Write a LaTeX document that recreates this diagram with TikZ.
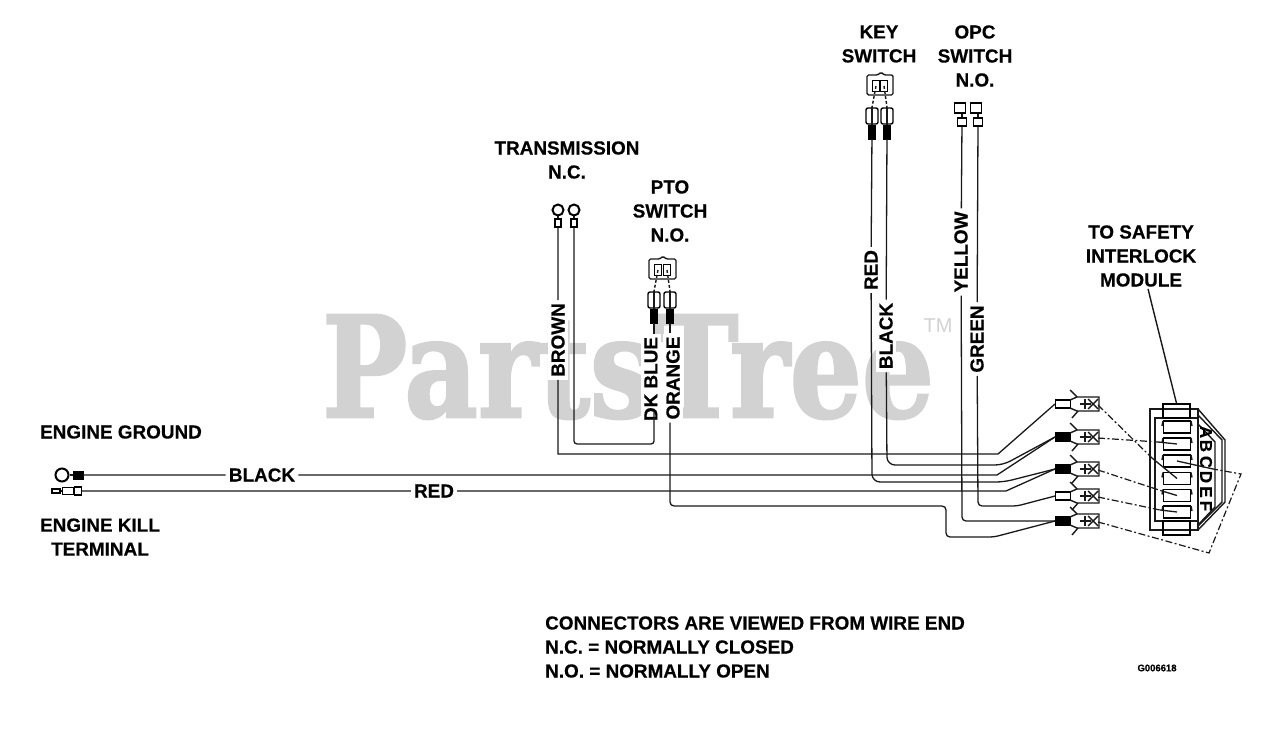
\documentclass[tikz,border=0pt]{standalone}
\usepackage{fontspec}
\setmainfont[BoldFeatures={FakeBold=0.4}]{Liberation Sans}
\newfontfamily\wmfont[BoldFeatures={FakeBold=2}]{DejaVu Serif}
\begin{document}
\begin{tikzpicture}[
    x			= 1pt,
    y			= -1pt,
    every node/.style	= {font=\bfseries\fontsize{18.9}{24}\selectfont, align=center, inner sep=0pt},
    wire/.style		= {line width=1.3pt, black!90},
    dashwire/.style	= {line width=1.2pt, black!90, dash pattern=on 7pt off 2.5pt on 2pt off 2.5pt},
    part/.style		= {line width=1.4pt, black!90},
    vlabel/.style	= {rotate=90, fill=white, inner sep=3pt},
    hlabel/.style	= {fill=white, inner sep=3pt},
    sleeve/.style	= {draw, line width=1.4pt, minimum width=15pt, minimum height=8pt, anchor=west},
    tube/.style		= {draw, line width=1.4pt, minimum width=6pt, minimum height=8pt},
    blacktube/.style	= {draw, fill=black, minimum width=7pt, minimum height=14pt},
    whitetube/.style	= {draw, line width=1.4pt, minimum width=12pt, minimum height=16pt, rounded corners=2pt},
    ring/.style		= {draw, circle, line width=2pt, minimum size=11pt},
    slotbox/.style	= {draw, line width=1.3pt, minimum width=27pt, minimum height=12pt}
  ]
\useasboundingbox (0,0) rectangle (1280,735);
% watermark
\node[gray!35, font=\wmfont\bfseries\fontsize{140}{150}\selectfont, xscale=0.81] (mark) at (628,367) {PartsTree};
\node[gray!35, font=\fontsize{20}{22}\selectfont] (markTM) at (938,326) {TM};
% titles
\node (titleTrans) at (567,160) {TRANSMISSION\\N.C.};
\node (titlePto) at (670,211) {PTO\\SWITCH\\N.O.};
\node (titleKey) at (879,44) {KEY\\SWITCH};
\node (titleOpc) at (975,56) {OPC\\SWITCH\\N.O.};
\node (titleModule) at (1141,256) {TO SAFETY\\INTERLOCK\\MODULE};
\node (titleGround) at (121,432) {ENGINE GROUND};
\node (titleKill) at (100,537) {ENGINE KILL\\TERMINAL};
\node[anchor=west, align=left] (titleNotes) at (545,647) {CONNECTORS ARE VIEWED FROM WIRE END\\N.C. = NORMALLY CLOSED\\N.O. = NORMALLY OPEN};
\node[font=\bfseries\fontsize{9.5}{10}\selectfont] (titleCode) at (1157,668) {G006618};
% wire labels
\node[hlabel] (labBlack) at (262,475) {BLACK};
\node[hlabel] (labRed) at (434,491) {RED};
\node[vlabel] (labBrown) at (558,340) {BROWN};
\node[vlabel] (labDk) at (651,379) {DK BLUE};
\node[vlabel] (labOrange) at (673,378) {ORANGE};
\node[vlabel] (labKeyRed) at (871,270) {RED};
\node[vlabel] (labKeyBlack) at (886,336) {BLACK};
\node[vlabel] (labYellow) at (961,252) {YELLOW};
\node[vlabel] (labGreen) at (977,339) {GREEN};
% ground and kill terminals
\node[ring, minimum size=13pt] (ringGround) at (62,475) {};
\node[draw, fill=black, minimum width=10pt, minimum height=8pt] (sleeveGround) at (78,475) {};
\draw[part] (ringGround) -- (sleeveGround);
\node[draw, line width=1.2pt, minimum width=7pt, minimum height=8pt] (pinKill) at (78,491) {};
\node[draw, line width=1.2pt, minimum width=11pt, minimum height=7pt] (collarKill) at (68,491) {};
\node[draw, line width=1.2pt, minimum width=8pt, minimum height=4pt] (tipKill) at (56,491) {};
\draw[part] (tipKill) -- (collarKill);
% transmission rings
\foreach \nm/\xx in {Brown/558,White/574} {
  \node[ring] (ring\nm) at (\xx,210) {};
  \node[tube] (tube\nm) at (\xx,223) {};
  \draw[part] (ring\nm) -- (tube\nm);
}
% pto and key switch plugs
\foreach \nm/\xa/\xb/\yy in {Pto/654/670/256,Key/872/887/72} {
  \draw[part, rounded corners=1.5pt] (\xa-5,\yy+3) -- (\xa+6,\yy+3) -- (\xa+9,\yy) -- (\xa+12,\yy+3) -- (\xb+6,\yy+3) -- (\xb+6,\yy+23) -- (\xa-5,\yy+23) -- cycle;
  \node[draw, line width=1.3pt, minimum width=7pt, minimum height=11pt] (slotL\nm) at (\xa+4,\yy+14) {};
  \node[draw, line width=1.3pt, minimum width=7pt, minimum height=11pt] (slotR\nm) at (\xb-3,\yy+14) {};
  \node[whitetube] (bodyL\nm) at (\xa,\yy+44) {};
  \node[whitetube] (bodyR\nm) at (\xb,\yy+44) {};
  \node[blacktube] (sleeveL\nm) at (\xa,\yy+60) {};
  \node[blacktube] (sleeveR\nm) at (\xb,\yy+60) {};
  \draw[part, densely dashed] (slotL\nm.center) -- (bodyL\nm.north);
  \draw[part, densely dashed] (slotR\nm.center) -- (bodyR\nm.north);
  \draw[part] (bodyL\nm.north) -- (bodyL\nm.south);
  \draw[part] (bodyR\nm.north) -- (bodyR\nm.south);
}
% opc switch spades
\foreach \nm/\xx in {Yellow/962,Green/978} {
  \node[draw, line width=1.4pt, minimum width=11pt, minimum height=10pt] (spade\nm) at (\xx-2,108) {};
  \node[draw, line width=1.4pt, minimum width=9pt, minimum height=8pt] (tube\nm) at (\xx,122) {};
  \draw[part] (spade\nm.south -| tube\nm) -- (tube\nm);
}
% blade terminals
\foreach \nm/\yy/\col in {D/404/white,B/437/black,E/469/black,F/496/white,C/521/black} {
  \node[sleeve, fill=\col] (term\nm) at (1055,\yy) {};
  \begin{scope}[shift={(1055,\yy)}]
    \draw[part] (15,-4) -- (22,-7) -- (44,-7) -- (44,7) -- (22,7) -- (15,4);
    \draw[part] (15,-14) -- (22,-7);
    \draw[part] (17,14) -- (23,7);
    \draw[part] (25,0) -- (36,0);
    \draw[part] (30,-5) -- (30,5);
    \draw[part] (33,-5) -- (43,5);
    \draw[part] (33,5) -- (43,-5);
    \coordinate (tip\nm) at (43,1);
  \end{scope}
}
% safety module housing
\draw[part] (1150,409) rectangle (1198,530);
\draw[part] (1155,418) rectangle (1198,521);
\node[draw, line width=1.3pt, minimum width=27pt, minimum height=14pt] (tabTop) at (1176.5,411) {};
\node[draw, line width=1.3pt, minimum width=27pt, minimum height=14pt] (tabBottom) at (1176.5,528) {};
\draw[part] (1198,409) -- (1225,440) -- (1225,502) -- (1198,530);
\draw[part] (1198,415) -- (1222,440) -- (1222,502) -- (1198,526);
\draw[part] (1198,424) -- (1215,442) -- (1215,507) -- (1198,525);
\foreach \nm/\ya/\yb in {A/427/432,B/444/446,C/461/462,D/478.5/477,E/495.5/492,F/512/506} {
  \node[slotbox] (slot\nm) at (1177,\ya) {};
  \draw[part] (1163,\ya-6) -- (1162,\ya-1);
  \draw[part] (1191,\ya-6) -- (1192,\ya-1);
  \node[rotate=-90, font=\bfseries\fontsize{17}{18}\selectfont] (letter\nm) at (1206,\yb) {\nm};
}
% leader to module
\draw[part] (titleModule.south) ++(7,2) -- (tabTop.north);
% wires
\draw[wire] (tubeBrown) -- (labBrown) -- (labBrown |- 0,454) -- (998,454) -- (termD.west);
\draw[wire, rounded corners=3pt] (tubeWhite) -- (574,444) -- (654,444) -- (654,410) -- (sleeveLPto.south |- labDk.west);
\draw[wire] (sleeveLPto.south) -- (sleeveLPto.south |- labDk.east);
\draw[wire] (sleeveRPto.south) -- (sleeveRPto.south |- labOrange.east);
\draw[wire, rounded corners=4pt] (sleeveRPto.south |- labOrange.west) -- (670,506) -- (946,506) -- (946,537) -- (994,537) -- (termC.west);
\draw[wire] (sleeveLKey) -- (labKeyRed);
\draw[wire, rounded corners=8pt] (labKeyRed) -- (872,482) -- (1004,482) -- (termE.west);
\draw[wire] (sleeveRKey) -- (labKeyBlack);
\draw[wire, rounded corners=8pt] (labKeyBlack) -- (887,465) -- (1003,465) -- (termB.west);
\draw[wire] (tubeYellow) -- (labYellow);
\draw[wire, rounded corners=4pt] (labYellow) -- (962,521) -- (termC.west);
\draw[wire] (tubeGreen) -- (labGreen);
\draw[wire, rounded corners=4pt] (labGreen) -- (978,506) -- (1017,506) -- (termF.west);
\draw[wire] (sleeveGround) -- (labBlack) -- (997,475) -- (termB.west);
\draw[wire] (pinKill) -- (labRed) -- (1006,491) -- (termE.west);
% dashed runs into the module
\coordinate (bendD) at (1152,458);
\coordinate (bendB) at (1158,442);
\coordinate (bendE) at (1162,491);
\coordinate (bendF) at (1160,510);
\coordinate (bendLow) at (1209,553);
\coordinate (bendSide) at (1241,474);
\coordinate (bendC) at (1213,469);
\foreach \nm in {D,B,E,F} {
  \draw[dashwire] (tip\nm) -- (bend\nm);
  \draw[wire] (bend\nm) -- (slot\nm.center);
}
\draw[dashwire] (tipC) -- (bendLow) -- (bendSide) -- (bendC);
\draw[wire] (bendC) -- (slotC.center);
%
\end{tikzpicture}
\end{document}
